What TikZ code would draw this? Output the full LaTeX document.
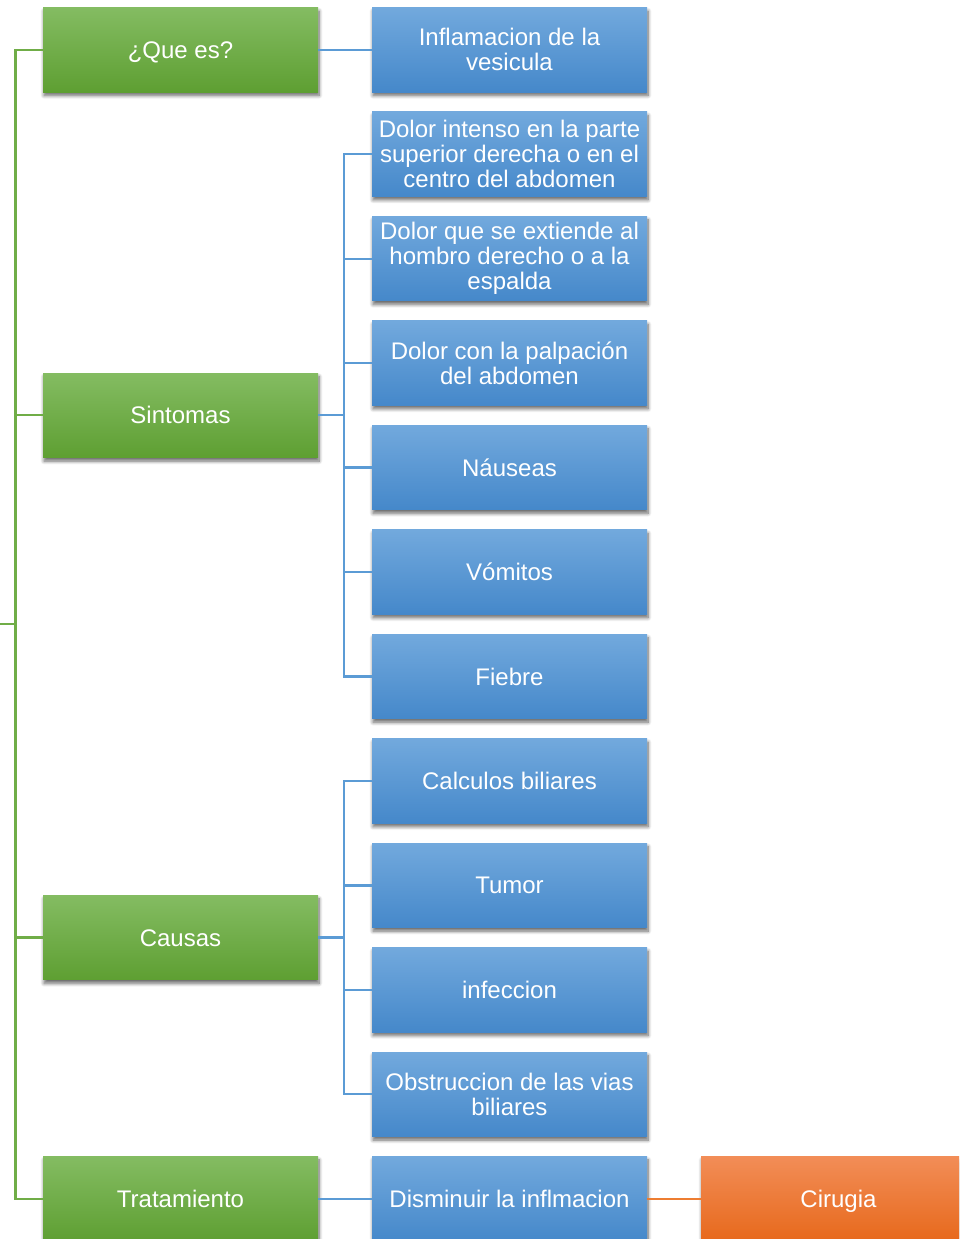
\documentclass[tikz,border=0pt]{standalone}
\usepackage{fontspec}
\setmainfont{Liberation Sans}
\usetikzlibrary{positioning,shadows.blur}
\definecolor{verdearriba}{HTML}{84BC62}
\definecolor{verdeabajo}{HTML}{5E9F32}
\definecolor{azularriba}{HTML}{72A9DD}
\definecolor{azulabajo}{HTML}{4588CA}
\definecolor{naranjaarriba}{HTML}{F28D57}
\definecolor{naranjaabajo}{HTML}{E7691C}
\definecolor{lineaverde}{HTML}{70AD47}
\definecolor{lineaazul}{HTML}{5B9BD5}
\definecolor{lineanaranja}{HTML}{ED7D31}

\begin{document}
\begin{tikzpicture}
[x=1pt,y=-1pt,
node distance=19.95pt,
caja/.style={minimum width=275pt, minimum height=84.5pt, inner sep=2pt,
outer sep=0pt, align=center, text=white, font=\fontsize{24}{25}\selectfont,
blur shadow={shadow xshift=1pt, shadow yshift=-3.5pt,
shadow blur radius=3.5pt, shadow blur steps=8, shadow opacity=60}},
una linea/.style={text height=17.2pt, text depth=0pt},
verde/.style={caja, una linea, top color=verdearriba, bottom color=verdeabajo},
azul/.style={caja, top color=azularriba, bottom color=azulabajo},
naranja/.style={caja, una linea, top color=naranjaarriba, bottom color=naranjaabajo},
rama verde/.style={draw=lineaverde, line width=2.3pt},
rama azul/.style={draw=lineaazul, line width=2.3pt},
rama naranja/.style={draw=lineanaranja, line width=2.3pt}]
\clip (0,0) rectangle (959,1239);
\node[azul] (inflamacion) at (509.5,49.75) {Inflamacion de la\\vesicula};
\node[azul, below=of inflamacion] (dolorintenso) {Dolor intenso en la parte\\superior derecha o en el\\centro del abdomen};
\node[azul, below=of dolorintenso] (dolorhombro) {Dolor que se extiende al\\hombro derecho o a la\\espalda};
\node[azul, below=of dolorhombro] (palpacion) {Dolor con la palpación\\del abdomen};
\node[azul, una linea, below=of palpacion] (nauseas) {Náuseas};
\node[azul, una linea, below=of nauseas] (vomitos) {Vómitos};
\node[azul, una linea, below=of vomitos] (fiebre) {Fiebre};
\node[azul, una linea, below=of fiebre] (calculos) {Calculos biliares};
\node[azul, una linea, below=of calculos] (tumor) {Tumor};
\node[azul, una linea, below=of tumor] (infeccion) {infeccion};
\node[azul, below=of infeccion] (obstruccion) {Obstruccion de las vias\\biliares};
\node[azul, una linea, below=of obstruccion] (disminuir) {Disminuir la inflmacion};
\node[naranja, right=54pt of disminuir] (cirugia) {Cirugia};
\node[verde, left=54pt of inflamacion] (quees) {¿Que es?};
\node[verde] (sintomas) at (180.5,415.33) {Sintomas};
\node[verde] (causas) at (180.5,937.58) {Causas};
\node[verde, left=54pt of disminuir] (tratamiento) {Tratamiento};
\coordinate (raiz) at (0,624.2);
\coordinate (tronco) at (15.5,624.2);
\draw[rama verde] (raiz) -- (tronco);
\draw[rama verde] (tronco) |- (quees.west);
\draw[rama verde] (tronco) |- (sintomas.west);
\draw[rama verde] (tronco) |- (causas.west);
\draw[rama verde] (tronco) |- (tratamiento.west);
\draw[rama azul] (quees.east) -- (inflamacion.west);
\draw[rama azul] (sintomas.east) -- ++(26,0) |- (dolorintenso.west);
\draw[rama azul] (sintomas.east) -- ++(26,0) |- (dolorhombro.west);
\draw[rama azul] (sintomas.east) -- ++(26,0) |- (palpacion.west);
\draw[rama azul] (sintomas.east) -- ++(26,0) |- (nauseas.west);
\draw[rama azul] (sintomas.east) -- ++(26,0) |- (vomitos.west);
\draw[rama azul] (sintomas.east) -- ++(26,0) |- (fiebre.west);
\draw[rama azul] (causas.east) -- ++(26,0) |- (calculos.west);
\draw[rama azul] (causas.east) -- ++(26,0) |- (tumor.west);
\draw[rama azul] (causas.east) -- ++(26,0) |- (infeccion.west);
\draw[rama azul] (causas.east) -- ++(26,0) |- (obstruccion.west);
\draw[rama azul] (tratamiento.east) -- (disminuir.west);
\draw[rama naranja] (disminuir.east) -- (cirugia.west);
\end{tikzpicture}
\end{document}
